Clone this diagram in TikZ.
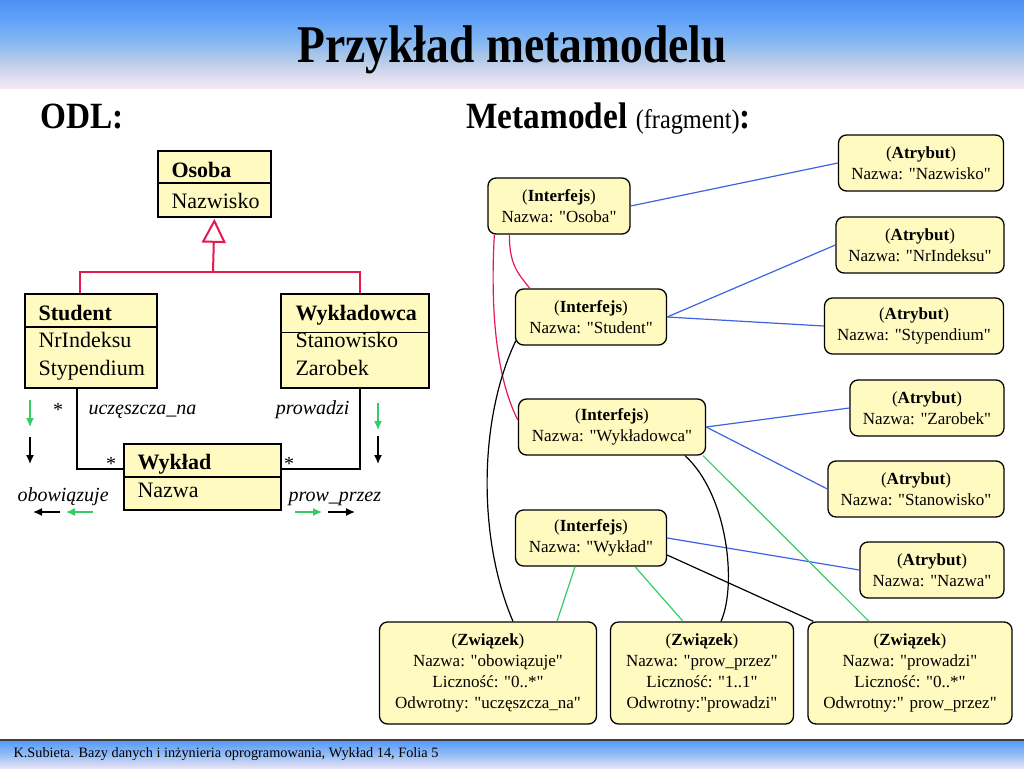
\documentclass[tikz,border=0pt]{standalone}
\usepackage{graphicx}
\usepackage{fontspec}
\setmainfont{Liberation Serif}
\usetikzlibrary{arrows.meta, calc, positioning}
\definecolor{klasazolty}{HTML}{FFFAC0}
\definecolor{dziedczerw}{HTML}{E8174F}
\definecolor{atrniebieski}{HTML}{3D63E0}
\definecolor{zwzielony}{HTML}{33CC66}
\definecolor{nagl0}{RGB}{78,143,245}
\definecolor{nagl1}{RGB}{100,163,248}
\definecolor{nagl2}{RGB}{130,182,242}
\definecolor{nagl3}{RGB}{175,200,232}
\definecolor{nagl4}{RGB}{215,218,238}
\definecolor{nagl5}{RGB}{242,232,245}
\definecolor{stop0}{RGB}{90,155,250}
\definecolor{stop1}{RGB}{150,190,245}
\definecolor{stop2}{RGB}{232,226,245}
\pgfdeclareverticalshading{naglowek}{100bp}{color(0bp)=(nagl5); color(25bp)=(nagl5); color(33bp)=(nagl4); color(42bp)=(nagl3); color(52bp)=(nagl2); color(63bp)=(nagl1); color(75bp)=(nagl0); color(100bp)=(nagl0)}
\pgfdeclareverticalshading{stopka}{100bp}{color(0bp)=(stop2); color(25bp)=(stop2); color(50bp)=(stop1); color(75bp)=(stop0); color(100bp)=(stop0)}
\newcommand{\rozm}[2]{\fontsize{#1}{#2}\selectfont}
\newcommand{\waski}[2]{\scalebox{#1}[1]{#2}}
\newcommand{\cdz}{\textquotedbl}

\begin{document}
\begin{tikzpicture}[x=1pt, y=-1pt, >={Latex[length=9pt,width=8pt]},
  klasa/.style={draw, line width=1.8pt, fill=klasazolty, anchor=north west, inner sep=0pt},
  meta/.style={draw, line width=1.3pt, rounded corners=8pt, fill=klasazolty, align=center, inner sep=1pt, font={\rozm{17}{20.5}}},
  zwiazek/.style={meta, font={\rozm{17}{21}}},
  asoc/.style={line width=2.4pt},
  dziedz/.style={line width=2pt, dziedczerw},
  atrlinia/.style={line width=1.2pt, atrniebieski},
  zwlinia/.style={line width=1.2pt, zwzielony},
  every node/.style={font={\rozm{22}{26}}}]

  \useasboundingbox (0,0) rectangle (1024,768);

  % Naglowek i stopka
  \shade[shading=naglowek] (0,0) rectangle (1024,88);
  \fill[black!75] (0,739) rectangle (1024,741.5);
  \shade[shading=stopka] (0,741.5) rectangle (1024,768);
  \node[anchor=base, font={\rozm{53}{60}\bfseries}] (tytul) at (512,63) {\waski{0.86}{Przykład metamodelu}};
  \node[anchor=base west, font={\rozm{14.3}{16}}] (stopka) at (10,757) {K.Subieta. Bazy danych i inżynieria oprogramowania, Wykład 14, Folia 5};

  \node[anchor=base west, font={\rozm{37}{44}\bfseries}] (odl) at (37,128) {\waski{0.9}{ODL:}};
  \node[anchor=base west, font={\rozm{37}{44}\bfseries}] (metamodel) at (463,128)
    {\waski{0.9}{Metamodel {\mdseries\rozm{27}{32}(fragment)}:}};

  % Klasy ODL
  \node[klasa, minimum width=113, minimum height=66] (osoba) at (157,150) {};
  \draw[line width=1.8pt] ($(osoba.north west)+(0,33)$) -- ($(osoba.north east)+(0,33)$);
  \node[anchor=base west, font={\rozm{22}{26}\bfseries}] at (168,177) {Osoba};
  \node[anchor=base west] at (168,208) {Nazwisko};

  \node[klasa, minimum width=132, minimum height=94] (student) at (24,293) {};
  \draw[line width=1.8pt] ($(student.north west)+(0,34)$) -- ($(student.north east)+(0,34)$);
  \node[anchor=base west, font={\rozm{22}{26}\bfseries}] at (35,320) {Student};
  \node[anchor=base west] at (35,347) {NrIndeksu};
  \node[anchor=base west] at (35,375) {Stypendium};

  \node[klasa, minimum width=148, minimum height=94] (wykladowca) at (280,293) {};
  \draw[line width=1pt] ($(wykladowca.north west)+(0,39)$) -- ($(wykladowca.north east)+(0,39)$);
  \node[anchor=base west, font={\rozm{22}{26}\bfseries}] at (292,320) {Wykładowca};
  \node[anchor=base west] at (292,347) {Stanowisko};
  \node[anchor=base west] at (292,375) {Zarobek};

  \node[klasa, minimum width=157, minimum height=66] (wyklad) at (123,443) {};
  \draw[line width=1.8pt] ($(wyklad.north west)+(0,34)$) -- ($(wyklad.north east)+(0,34)$);
  \node[anchor=base west, font={\rozm{22}{26}\bfseries}] at (134,469) {Wykład};
  \node[anchor=base west] at (134,497) {Nazwa};

  % Dziedziczenie
  \coordinate (wezel) at (213,272);
  \draw[dziedz] ($(student.north)+(-11,0)$) |- (wezel) -| ($(wykladowca.north)+(5,0)$);
  \draw[dziedz, -{Triangle[open, length=24pt, width=24pt]}] (wezel) -- ($(osoba.south)+(0,1)$);

  % Asocjacje
  \draw[asoc] ($(student.south west)+(53,0)$) |- ($(wyklad.west)+(0,-8)$);
  \draw[asoc] ($(wyklad.east)+(0,-8)$) -| ($(wykladowca.south west)+(80,0)$);
  \node[anchor=base, font={\rozm{20}{24}}] at (58,416) {*};
  \node[anchor=base, font={\rozm{20}{24}}] at (111,470) {*};
  \node[anchor=base, font={\rozm{20}{24}}] at (289,470) {*};
  \node[anchor=base west, font={\rozm{20}{24}\itshape}] at (85,414) {uczęszcza\_na};
  \node[anchor=base east, font={\rozm{20}{24}\itshape}] at (353,414) {prowadzi};
  \node[anchor=base west, font={\rozm{20}{24}\itshape}] at (14,501) {obowiązuje};
  \node[anchor=base west, font={\rozm{20}{24}\itshape}] at (285,501) {prow\_przez};

  % Kierunki
  \foreach \x/\ya/\yb/\kol in {30/400/427/zwzielony, 30/437/464/black, 378/403/430/zwzielony, 378/436/464/black}
    \draw[->, line width=1.4pt, \kol] (\x,\ya) -- (\x,\yb);
  \foreach \xa/\xb/\kol in {60/33/black, 93/66/zwzielony, 295/322/zwzielony, 328/355/black}
    \draw[->, line width=1.4pt, \kol] (\xa,512) -- (\xb,512);

  % Metamodel - interfejsy
  \node[meta, minimum width=142, minimum height=56] (iosoba) at (559,206) {(\textbf{Interfejs})\\Nazwa: \cdz Osoba\cdz};
  \node[meta, minimum width=151, minimum height=56] (istudent) at (591,317) {(\textbf{Interfejs})\\Nazwa: \cdz Student\cdz};
  \node[meta, minimum width=187, minimum height=56] (iwykladowca) at (612,427) {(\textbf{Interfejs})\\Nazwa: \cdz Wykładowca\cdz};
  \node[meta, minimum width=151, minimum height=56] (iwyklad) at (591,538) {(\textbf{Interfejs})\\Nazwa: \cdz Wykład\cdz};

  % Metamodel - atrybuty
  \node[meta, minimum width=165, minimum height=56] (anazwisko) at (921,163) {(\textbf{Atrybut})\\Nazwa: \cdz Nazwisko\cdz};
  \node[meta, minimum width=168, minimum height=56] (anrindeksu) at (920,245) {(\textbf{Atrybut})\\Nazwa: \cdz NrIndeksu\cdz};
  \node[meta, minimum width=179, minimum height=56] (astypendium) at (914,326) {(\textbf{Atrybut})\\Nazwa: \cdz Stypendium\cdz};
  \node[meta, minimum width=154, minimum height=56] (azarobek) at (927,408) {(\textbf{Atrybut})\\Nazwa: \cdz Zarobek\cdz};
  \node[meta, minimum width=176, minimum height=56] (astanowisko) at (916,489) {(\textbf{Atrybut})\\Nazwa: \cdz Stanowisko\cdz};
  \node[meta, minimum width=144, minimum height=56] (anazwa) at (932,570) {(\textbf{Atrybut})\\Nazwa: \cdz Nazwa\cdz};

  % Metamodel - zwiazki
  \node[zwiazek, minimum width=217, minimum height=102] (zobow) at (488,673)
    {(\textbf{Związek})\\Nazwa: \cdz obowiązuje\cdz\\Liczność: \cdz 0..*\cdz\\Odwrotny: \cdz uczęszcza\_na\cdz};
  \node[zwiazek, minimum width=183, minimum height=102] (zprow) at (702,673)
    {(\textbf{Związek})\\Nazwa: \cdz prow\_przez\cdz\\Liczność: \cdz 1..1\cdz\\Odwrotny:\cdz prowadzi\cdz};
  \node[zwiazek, minimum width=204, minimum height=102] (zprowadzi) at (910,673)
    {(\textbf{Związek})\\Nazwa: \cdz prowadzi\cdz\\Liczność: \cdz 0..*\cdz\\Odwrotny:\cdz{} prow\_przez\cdz};

  % Polaczenia atrybutow
  \draw[atrlinia] (iosoba.east) -- (anazwisko.west);
  \draw[atrlinia] (istudent.east) -- (anrindeksu.west);
  \draw[atrlinia] (istudent.east) -- (astypendium.west);
  \draw[atrlinia] (iwykladowca.east) -- (azarobek.west);
  \draw[atrlinia] (iwykladowca.east) -- (astanowisko.west);
  \draw[atrlinia] (iwyklad.east) -- (anazwa.west);

  % Nadtypy
  \draw[line width=1.2pt, dziedczerw] ($(iosoba.south west)+(7,0)$) .. controls +(-5,90) and +(-18,-35) .. ($(iwykladowca.west)+(0,-7)$);
  \draw[line width=1.2pt, dziedczerw] ($(iosoba.south west)+(22,0)$) .. controls +(0,30) and +(-12,-15) .. ($(istudent.north west)+(15,0)$);

  % Zwiazki
  \draw[line width=1.2pt] ($(istudent.south west)+(1,-5)$) .. controls (478,420) and (478,540) .. ($(zobow.north)+(25,0)$);
  \draw[line width=1.2pt] ($(iwykladowca.south)+(73,0)$) .. controls (728,495) and (737,585) .. ($(zprow.north)+(19,0)$);
  \draw[line width=1.2pt] ($(iwyklad.east)+(0,17)$) -- ($(zprowadzi.north west)+(6,0)$);
  \draw[zwlinia] ($(iwykladowca.south)+(91,0)$) -- ($(zprowadzi.north)+(-41,0)$);
  \draw[zwlinia] ($(iwyklad.south)+(-16,0)$) -- ($(zobow.north)+(69,0)$);
  \draw[zwlinia] ($(iwyklad.south)+(44,0)$) -- ($(zprow.north)+(-19,0)$);

\end{tikzpicture}
\end{document}
